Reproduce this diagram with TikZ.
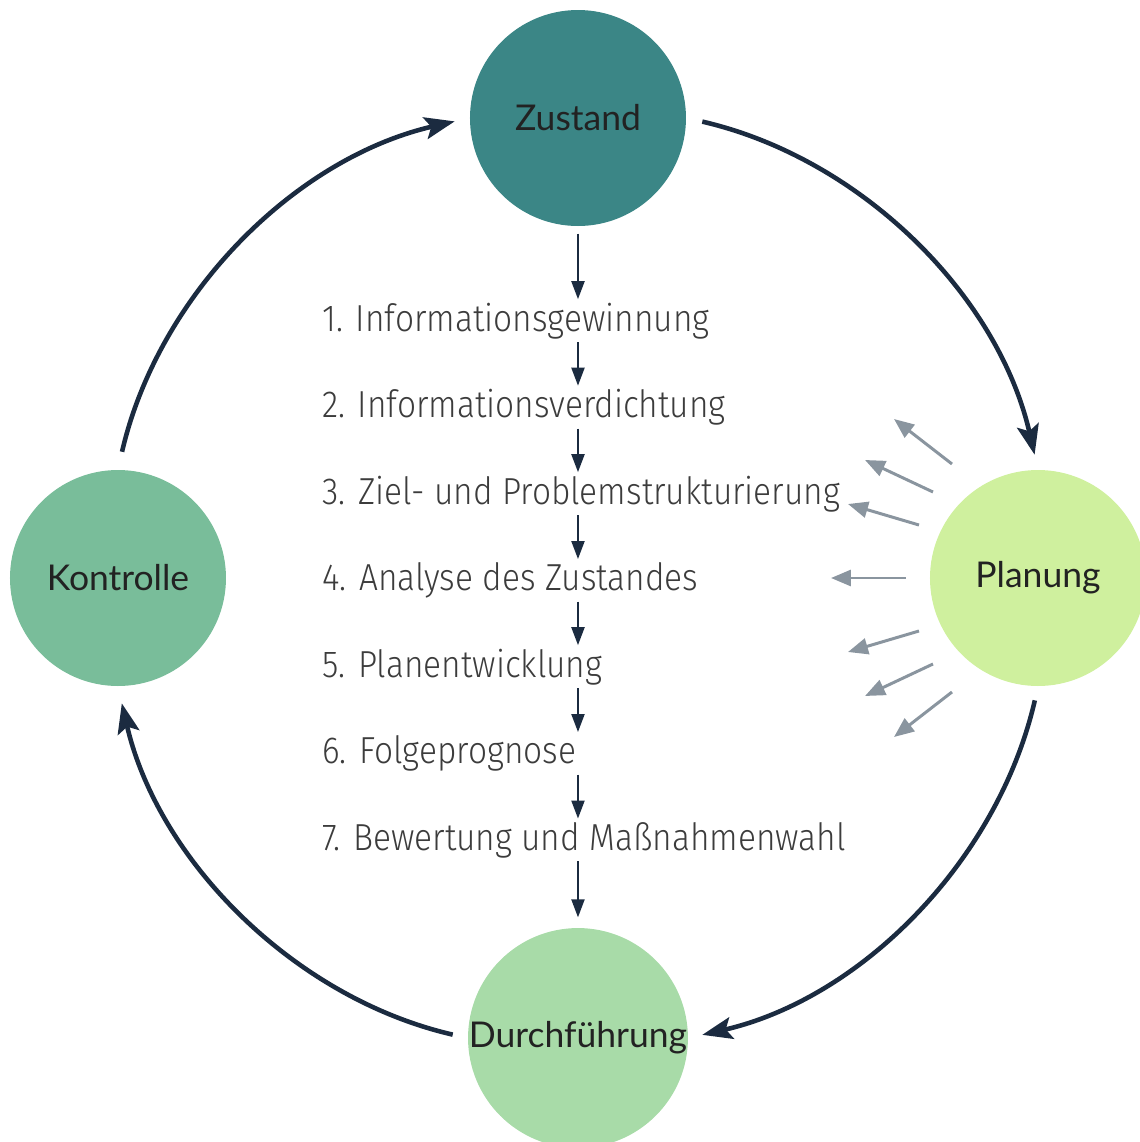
\documentclass[tikz,border=0pt]{standalone}
\usepackage{fontspec}
\setmainfont{Lato}
\newfontfamily\stepfont{Fira Sans Light}[FakeStretch=0.89]
\usetikzlibrary{arrows.meta, positioning, calc}
\definecolor{zustandColor}{RGB}{59, 134, 134}
\definecolor{kontrolleColor}{RGB}{121, 189, 154}
\definecolor{planungColor}{RGB}{207, 240, 158}
\definecolor{durchColor}{RGB}{168, 219, 168}
\definecolor{arrowColor}{RGB}{27, 43, 64}
\definecolor{rayColor}{RGB}{138, 149, 159}
\definecolor{labelColor}{RGB}{34, 34, 34}
\definecolor{stepColor}{RGB}{60, 60, 60}

\begin{document}
\begin{tikzpicture}[
        phase/.style={circle, minimum size=2.16cm, inner sep=0pt, text=labelColor, font=\fontsize{10.1}{12}\selectfont},
        stepnode/.style={anchor=base west, inner sep=0pt, outer sep=1pt, text=stepColor, font=\stepfont\fontsize{10.7}{12}\selectfont},
        cycle/.style={-{Stealth[length=0.3cm, width=0.22cm, inset=0.06cm]}, line width=1.3pt, arrowColor, looseness=0.92},
        flow/.style={-{Triangle[length=0.18cm, width=0.13cm]}, line width=0.6pt, arrowColor},
        ray/.style={-{Triangle[length=0.2cm, width=0.16cm]}, line width=0.85pt, rayColor}
    ]
        \useasboundingbox (-5.78,-5.64) rectangle (5.61,5.78);

        % Phases of the cycle
        \node[phase, fill=zustandColor] (zustand) at (0,4.6) {Zustand};
        \node[phase, fill=planungColor] (planung) at (4.6,0) {Planung};
        \node[phase, fill=durchColor] (durch) at (0,-4.6) {Durchführung};
        \node[phase, fill=kontrolleColor] (kontrolle) at (-4.6,0) {Kontrolle};

        % Cycle arrows
        \draw[cycle, shorten <=0.16cm, shorten >=0.15cm] (zustand.east) to[out=-13, in=103] (planung.north);
        \draw[cycle, shorten <=0.14cm, shorten >=0.14cm] (planung.south) to[out=-103, in=13] (durch.east);
        \draw[cycle, shorten <=0.15cm, shorten >=0.17cm] (durch.west) to[out=167, in=-77] (kontrolle.south);
        \draw[cycle, shorten <=0.18cm, shorten >=0.15cm] (kontrolle.north) to[out=77, in=-167] (zustand.west);

        % Planning steps
        \node[stepnode] (s1) at (-2.59,2.47) {1. Informationsgewinnung};
        \node[stepnode] (s2) at (-2.59,1.605) {2. Informationsverdichtung};
        \node[stepnode] (s3) at (-2.59,0.74) {3. Ziel- und Problemstrukturierung};
        \node[stepnode] (s4) at (-2.59,-0.125) {4. Analyse des Zustandes};
        \node[stepnode] (s5) at (-2.59,-0.99) {5. Planentwicklung};
        \node[stepnode] (s6) at (-2.59,-1.855) {6. Folgeprognose};
        \node[stepnode] (s7) at (-2.59,-2.72) {7. Bewertung und Maßnahmenwahl};

        \draw[flow, shorten <=0.07cm] (zustand) -- (s1.north -| zustand);
        \foreach \a/\b in {s1/s2, s2/s3, s3/s4, s4/s5, s5/s6, s6/s7}
            \draw[flow] (\a.south -| zustand) -- (\b.north -| zustand);
        \draw[flow, shorten >=0.1cm] (s7.south -| zustand) -- (durch);

        % Rays out of Planung
        \foreach \tx/\ty/\hx/\hy in {-0.86/1.14/-1.44/1.59, -1.05/0.86/-1.73/1.18, -1.19/0.53/-1.90/0.74, -1.32/0/-2.07/0,
                                     -1.19/-0.53/-1.90/-0.74, -1.05/-0.86/-1.73/-1.18, -0.86/-1.14/-1.44/-1.59}
            \draw[ray] ($(planung)+(\tx,\ty)$) -- ($(planung)+(\hx,\hy)$);
    \end{tikzpicture}
\end{document}
